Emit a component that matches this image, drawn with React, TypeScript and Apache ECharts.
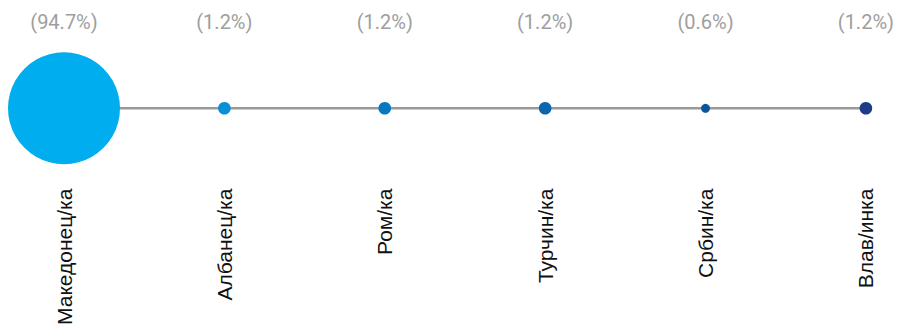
import React, { useEffect, useRef } from "react";
import * as echarts from "echarts";

const categories = ["Македонец/ка", "Албанец/ка", "Ром/ка", "Турчин/ка", "Србин/ка", "Влав/инка"];
const shares = [94.7, 1.2, 1.2, 1.2, 0.6, 1.2];
const colors = ["#00adef", "#0890d5", "#0a78bf", "#0b66ac", "#08559b", "#1d3c86"];

export default function App() {
  const ref = useRef<HTMLDivElement>(null);
  useEffect(() => {
    document.body.style.margin = "0";
    const chart = echarts.init(ref.current!, null, { renderer: "svg" });
    const maxShare = Math.max(...shares);
    chart.setOption({
      animation: false,
      grid: { left: 64, right: 31, top: 41, bottom: 149 },
      xAxis: [
        {
          type: "category",
          data: categories,
          boundaryGap: false,
          position: "bottom",
          axisLine: { show: false },
          axisTick: { show: false },
          axisLabel: {
            rotate: 90,
            margin: 13,
            color: "#111",
            fontFamily: "Liberation Sans, Arial, sans-serif",
            fontSize: 21,
          },
        },
        {
          type: "category",
          data: shares.map((s) => "(" + s.toFixed(1) + "%)"),
          boundaryGap: false,
          position: "top",
          axisLine: { show: false },
          axisTick: { show: false },
          axisLabel: {
            margin: 9,
            color: "#9e9e9e",
            fontFamily: "Roboto, sans-serif",
            fontSize: 20,
          },
        },
      ],
      yAxis: { type: "value", min: -1, max: 1, show: false },
      series: [
        {
          type: "line",
          data: shares.map(() => 0),
          showSymbol: false,
          lineStyle: { color: "#999999", width: 2.5 },
          z: 1,
          silent: true,
        },
        {
          type: "scatter",
          z: 2,
          data: shares.map((s, i) => ({
            value: [i, 0],
            symbolSize: 112 * Math.sqrt(s / maxShare),
            itemStyle: { color: colors[i], opacity: 1 },
          })),
        },
      ],
    });
    return () => chart.dispose();
  }, []);
  return <div ref={ref} style={{ width: 897, height: 328 }} />;
}
